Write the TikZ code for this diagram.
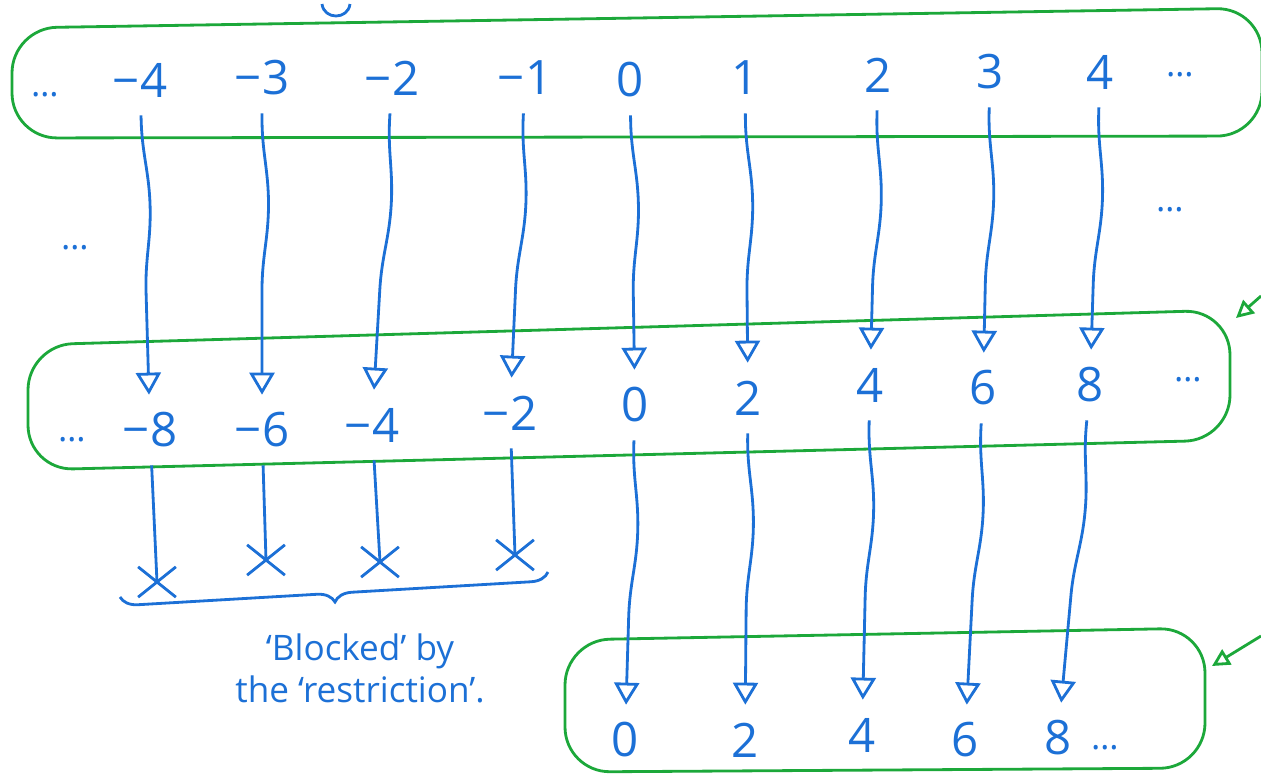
\documentclass[tikz,border=0pt]{standalone}
\usepackage{fontspec}
\setmainfont{Open Sans}
\usetikzlibrary{arrows.meta,decorations.pathmorphing,decorations.pathreplacing,shapes.misc}
\definecolor{pen}{RGB}{28,112,214}
\definecolor{marker}{RGB}{28,168,58}

\begin{document}
\begin{tikzpicture}[
  x=0.02cm,y=-0.02cm,
  >={Triangle[open,length=4.4mm,width=5mm]},
  font=\fontsize{27}{30}\selectfont,
  num/.style={text=pen,inner sep=1pt,minimum height=14mm},
  dots/.style={text=pen,font=\fontsize{20}{20}\selectfont},
  blob/.style={draw=marker,line width=1.6pt,rounded corners=9mm},
  map/.style={->,draw=pen,line width=1.6pt,decorate,
              decoration={snake,amplitude=1.3mm,segment length=55mm,
                          pre length=1mm,post length=4.8mm}},
  block/.style={draw=pen,line width=1.6pt,decorate,
                decoration={snake,amplitude=1mm,segment length=35mm,
                            pre length=1mm,post length=1mm}},
  cross/.style={cross out,draw=pen,line width=1.6pt,
                minimum width=7mm,minimum height=5.5mm,inner sep=0pt}]

\useasboundingbox (0,0) rectangle (1261,775);

% --- the three sets (green outlines) ---
\draw[blob] (12,28) -- (1262,8) -- (1262,136) -- (12,138) -- cycle;
\draw[blob] (28,345) -- (1230,310) -- (1230,440) -- (28,470) -- cycle;
\draw[blob] (565,640) -- (1205,628) -- (1205,768) -- (565,772) -- cycle;

% stray green arrows coming in from the right
\coordinate (gA) at (1261,296);
\coordinate (gB) at (1261,636);
\draw[marker,line width=1.6pt,-{Triangle[open,length=3.5mm,width=3.5mm]}]
  (gA) -- (1236,318);
\draw[marker,line width=1.6pt,-{Triangle[open,length=3.5mm,width=3.5mm]}]
  (gB) -- (1212,666);

% cut-off letter at the top edge
\draw[pen,line width=1.6pt] (322,4) .. controls (324,20) and (348,20) .. (350,4);

% --- top row ---
\node[dots] (tdl) at (45,95) {\ldots};
\node[num] (t1) at (140,80) {−4};
\node[num] (t2) at (262,78) {−3};
\node[num] (t3) at (392,78) {−2};
\node[num] (t4) at (525,78) {−1};
\node[num] (t5) at (630,80) {0};
\node[num] (t6) at (745,78) {1};
\node[num] (t7) at (878,75) {2};
\node[num] (t8) at (990,72) {3};
\node[num] (t9) at (1100,72) {4};
\node[dots] (tdr) at (1180,75) {\ldots};

% side dots
\node[dots] (sdl) at (75,248) {\ldots};
\node[dots] (sdr) at (1170,210) {\ldots};

% --- middle row ---
\node[dots] (mdl) at (72,440) {\ldots};
\node[num] (m1) at (150,430) {−8};
\node[num] (m2) at (262,430) {−6};
\node[num] (m3) at (372,425) {−4};
\node[num] (m4) at (510,413) {−2};
\node[num] (m5) at (635,405) {0};
\node[num] (m6) at (748,398) {2};
\node[num] (m7) at (870,385) {4};
\node[num] (m8) at (983,388) {6};
\node[num] (m9) at (1090,385) {8};
\node[dots] (mdr) at (1188,380) {\ldots};

% --- blocked ends ---
\node[cross] (x1) at (157,582) {};
\node[cross] (x2) at (266,560) {};
\node[cross] (x3) at (380,562) {};
\node[cross] (x4) at (515,555) {};

% --- bottom row ---
\node[num] (b1) at (625,740) {0};
\node[num] (b2) at (745,740) {2};
\node[num] (b3) at (862,735) {4};
\node[num] (b4) at (965,740) {6};
\node[num] (b5) at (1058,738) {8};
\node[dots] (bdr) at (1105,748) {\ldots};

% --- doubling map, top to middle ---
\draw[map] (t1) -- (m1);
\draw[map] (t2) -- (m2);
\draw[map] (t3) -- (m3);
\draw[map] (t4) -- (m4);
\draw[map] (t5) -- (m5);
\draw[map] (t6) -- (m6);
\draw[map] (t7) -- (m7);
\draw[map] (t8) -- (m8);
\draw[map] (t9) -- (m9);

% --- negatives stop, non-negatives go on ---
\draw[block] (m1) -- (x1.center);
\draw[block] (m2) -- (x2.center);
\draw[block] (m3) -- (x3.center);
\draw[block] (m4) -- (x4.center);
\draw[map] (m5) -- (b1);
\draw[map] (m6) -- (b2);
\draw[map] (m7) -- (b3);
\draw[map] (m8) -- (b4);
\draw[map] (m9) -- (b5);

% --- brace and note ---
\coordinate (brL) at (120,597);
\coordinate (brR) at (548,572);
\draw[pen,line width=1.6pt,decorate,decoration={brace,mirror,amplitude=3.5mm}]
  (brL) -- (brR);
\node[text=pen,align=center,font=\fontsize{20}{24}\selectfont] (note) at (360,668)
  {‘Blocked’ by\\the ‘restriction’.};

\end{tikzpicture}
\end{document}
